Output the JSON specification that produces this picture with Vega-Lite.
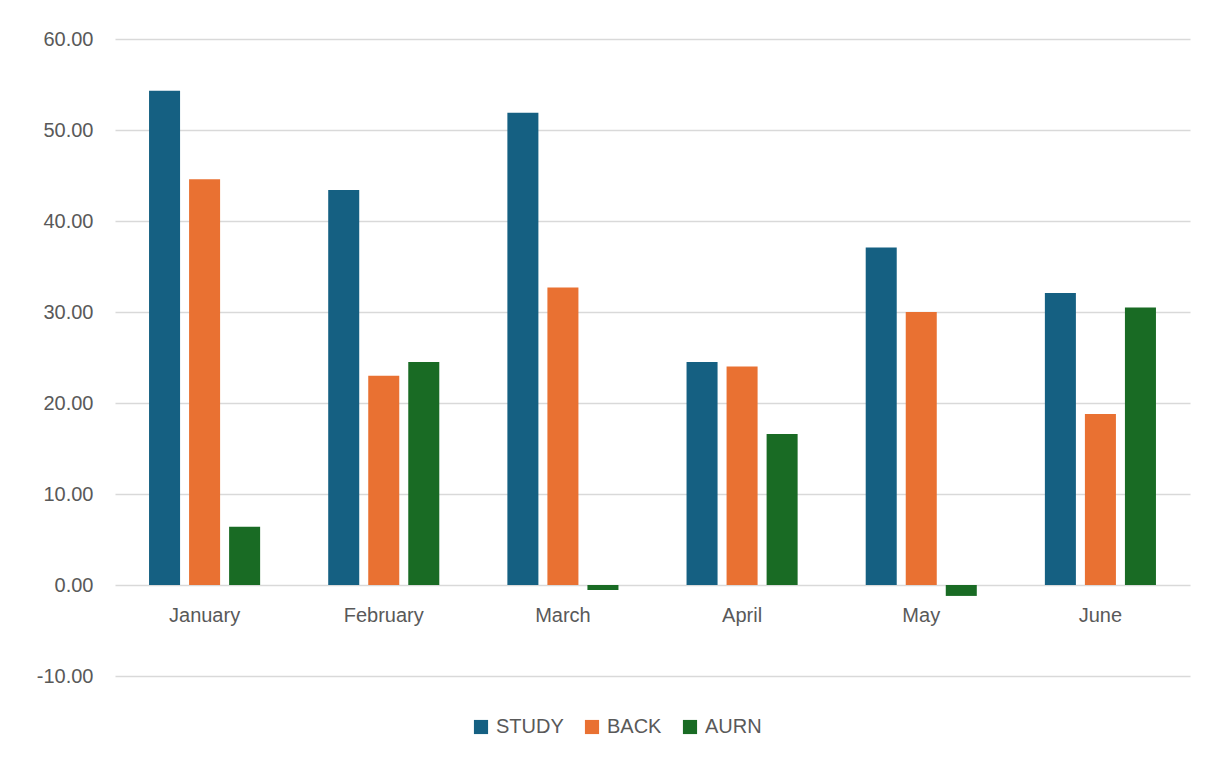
{
  "$schema": "https://vega.github.io/schema/vega-lite/v6.json",
  "width": 1075,
  "height": 637,
  "autosize": {"type": "none"},
  "padding": {"left": 115, "top": 39, "right": 18, "bottom": 84},
  "background": "white",
  "config": {
    "view": {"stroke": null},
    "font": "Liberation Sans",
    "axis": {"labelFont": "Liberation Sans", "labelColor": "#595959", "labelFontSize": 20}
  },
  "data": {
    "values": [
      {"month": "January", "series": "STUDY", "value": 54.3},
      {"month": "January", "series": "BACK", "value": 44.6},
      {"month": "January", "series": "AURN", "value": 6.4},
      {"month": "February", "series": "STUDY", "value": 43.4},
      {"month": "February", "series": "BACK", "value": 23.0},
      {"month": "February", "series": "AURN", "value": 24.5},
      {"month": "March", "series": "STUDY", "value": 51.9},
      {"month": "March", "series": "BACK", "value": 32.7},
      {"month": "March", "series": "AURN", "value": -0.55},
      {"month": "April", "series": "STUDY", "value": 24.5},
      {"month": "April", "series": "BACK", "value": 24.0},
      {"month": "April", "series": "AURN", "value": 16.6},
      {"month": "May", "series": "STUDY", "value": 37.1},
      {"month": "May", "series": "BACK", "value": 30.0},
      {"month": "May", "series": "AURN", "value": -1.2},
      {"month": "June", "series": "STUDY", "value": 32.1},
      {"month": "June", "series": "BACK", "value": 18.8},
      {"month": "June", "series": "AURN", "value": 30.5}
    ]
  },
  "mark": {"type": "bar"},
  "encoding": {
    "x": {
      "field": "month", "type": "nominal",
      "sort": ["January", "February", "March", "April", "May", "June"],
      "scale": {"paddingInner": 0.38, "paddingOuter": 0.19},
      "axis": {"title": null, "labelAngle": 0, "ticks": false, "domain": false, "offset": -91, "labelPadding": 20}
    },
    "xOffset": {
      "field": "series", "type": "nominal",
      "sort": ["STUDY", "BACK", "AURN"],
      "scale": {"paddingInner": 0.225, "paddingOuter": 0}
    },
    "y": {
      "field": "value", "type": "quantitative",
      "scale": {"domain": [-10, 60], "nice": false, "zero": false},
      "axis": {"title": null, "values": [-10, 0, 10, 20, 30, 40, 50, 60], "labelExpr": "datum.value < 0 ? '-' + format(-datum.value, '.2f') : format(datum.value, '.2f')", "ticks": false, "domain": false, "labelPadding": 22, "gridColor": "#d9d9d9", "gridWidth": 1.5}
    },
    "color": {
      "field": "series", "type": "nominal",
      "sort": ["STUDY", "BACK", "AURN"],
      "scale": {"domain": ["STUDY", "BACK", "AURN"], "range": ["#156082", "#E97132", "#196B24"]},
      "legend": {
        "title": null, "orient": "none", "direction": "horizontal",
        "legendX": 356, "legendY": 678,
        "symbolType": "square", "symbolSize": 200, "symbolStrokeWidth": 0, "symbolOpacity": 1,
        "labelFontSize": 20, "labelColor": "#595959", "labelFont": "Liberation Sans",
        "labelOffset": 5, "columnPadding": 18
      }
    }
  }
}
